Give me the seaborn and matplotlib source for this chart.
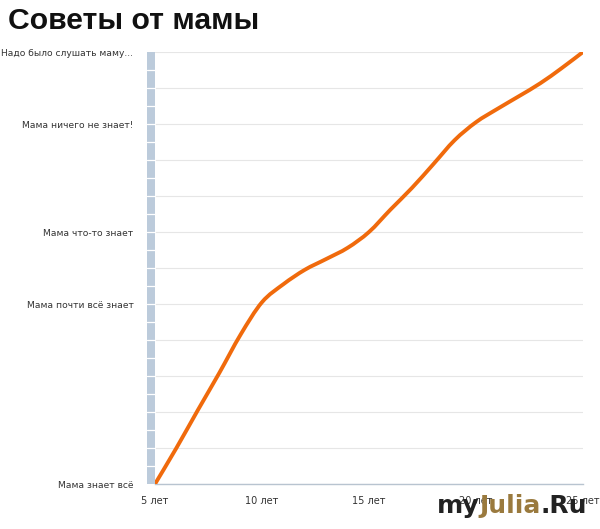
import matplotlib
matplotlib.use("Agg")
import matplotlib.pyplot as plt
import matplotlib.transforms as mtransforms
from matplotlib.patches import Rectangle, PathPatch
from matplotlib.path import Path
import seaborn as sns
import numpy as np

# Values (level 0 = "Мама знает всё", 12 = "Надо было слушать маму...")
years = [5, 6, 7, 8, 9, 10, 11, 12, 13, 14, 15, 16, 17, 18, 19, 20, 21, 22, 23, 24, 25]
levels = [0.0, 1.0, 2.05, 3.08, 4.15, 5.05, 5.55, 5.95, 6.25, 6.56, 7.0, 7.62, 8.22, 8.88, 9.55,
          10.05, 10.42, 10.77, 11.13, 11.55, 12.0]

x_ticks = [5, 10, 15, 20, 25]
x_labels = ['5 лет', '10 лет', '15 лет', '20 лет', '25 лет']
y_label_pos = [0, 5, 7, 10, 12]
y_label_txt = ['Мама знает всё', 'Мама почти всё знает', 'Мама что-то знает',
               'Мама ничего не знает!', 'Надо было слушать маму...']

sns.set_style("white")
plt.rcParams['font.family'] = ['DejaVu Sans']

fig = plt.figure(figsize=(6.0, 5.29), dpi=100)
ax = fig.add_axes([155/600, 45/529, 428/600, 432/529])

sns.lineplot(x=years, y=levels, ax=ax, color='#f06a0c', linewidth=2.8)

# redraw the seaborn line as a smooth spline-like path through the same points
line = ax.lines[0]
xs, ys = line.get_xdata(), line.get_ydata()
pts = np.column_stack([xs, ys])
verts = [pts[0]]
codes = [Path.MOVETO]
n = len(pts)
for i in range(n - 1):
    p0 = pts[i - 1] if i > 0 else pts[i]
    p1, p2 = pts[i], pts[i + 1]
    p3 = pts[i + 2] if i + 2 < n else pts[i + 1]
    verts += [p1 + (p2 - p0) / 6, p2 - (p3 - p1) / 6, p2]
    codes += [Path.CURVE4] * 3
ax.add_patch(PathPatch(Path(verts, codes), facecolor='none', edgecolor=line.get_color(),
                       linewidth=line.get_linewidth(), capstyle='butt', zorder=5))
line.remove()

ax.set_xlim(5, 25)
ax.set_ylim(0, 12)

# y ticks: every level, labels only on some
ylabs = ['' for _ in range(13)]
for p, t in zip(y_label_pos, y_label_txt):
    ylabs[p] = t
ax.set_yticks(range(13))
ax.set_yticklabels(ylabs, fontsize=6.6, color='#333333')
ax.tick_params(axis='y', length=12.5, width=0.8, color='#c8c8c8', pad=3, direction='out')
ax.yaxis.grid(True, color='#e6e6e6', linewidth=0.8)

ax.set_xticks(x_ticks)
ax.set_xticklabels(x_labels, fontsize=7, color='#333333')
ax.set_xticks([7.5, 12.5, 17.5, 22.5], minor=True)
ax.tick_params(axis='x', which='major', length=0, pad=9)
ax.tick_params(axis='x', which='minor', length=4, width=0.8, color='#b8c0c8', direction='out')

for s in ['top', 'right', 'left']:
    ax.spines[s].set_visible(False)
ax.spines['bottom'].set_color('#b8c4d0')
ax.spines['bottom'].set_linewidth(1.0)
ax.set_xlabel('')
ax.set_ylabel('')

# blue-grey band on the left of the plot
trans = mtransforms.blended_transform_factory(ax.transAxes, ax.transData)
ax.add_patch(Rectangle((-8/428, 0), 8/428, 12, transform=trans, facecolor='#bccbdb',
                       edgecolor='none', clip_on=False, zorder=6))
for v in np.arange(0.5, 12, 0.5):
    ax.plot([-8/428, 0], [v, v], transform=trans, color='white', linewidth=0.9,
            clip_on=False, zorder=7)

fig.text(8/600, 1 - 21/529, 'Советы от мамы', fontsize=21.7, fontweight='bold',
         family='Liberation Sans', va='center', ha='left', color='#111111')

# watermark
wm_y = 1 - 506/529
t1 = fig.text(437/600, wm_y, 'my', fontsize=18, fontweight='bold', color='#222222',
              va='center', ha='left', family='DejaVu Sans')
fig.canvas.draw()
bb = t1.get_window_extent()
t2 = fig.text(bb.x1 / 600, wm_y, 'Julia', fontsize=18, fontweight='bold', color='#9a7a3e',
              va='center', ha='left', family='DejaVu Sans')
fig.canvas.draw()
bb = t2.get_window_extent()
fig.text(bb.x1 / 600, wm_y, '.Ru', fontsize=18, fontweight='bold', color='#222222',
         va='center', ha='left', family='DejaVu Sans')

fig.savefig('out.png', dpi=100)
